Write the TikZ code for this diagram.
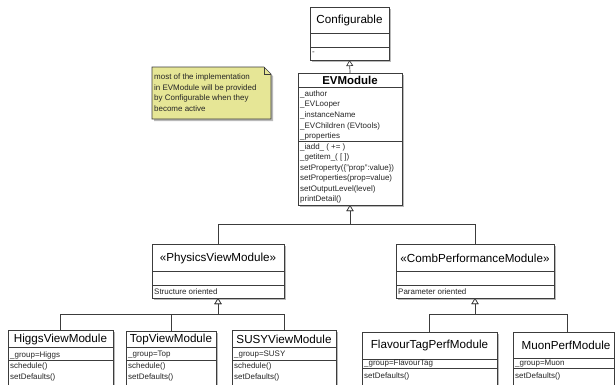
\documentclass[tikz,border=0pt]{standalone}
\usepackage{fontspec}
\setmainfont{Liberation Sans}
\usetikzlibrary{arrows.meta}
\definecolor{notefill}{RGB}{230,230,150}
\definecolor{lin}{RGB}{60,60,60}
\definecolor{shad}{RGB}{185,185,185}
\tikzset{
 cls/.style={draw=lin, line width=0.8bp, fill=white, inner sep=0pt, outer sep=0pt},
 shd/.style={fill=shad},
 divl/.style={draw=lin, line width=0.6bp},
 ttl/.style={font=\fontsize{11.7}{13}\selectfont, inner sep=0pt, text=black},
 ttlb/.style={font=\fontsize{11.5}{13}\selectfont\bfseries, inner sep=0pt, text=black},
 sm/.style={font=\fontsize{8}{9}\selectfont, inner sep=0pt, anchor=west, text=black!85},
 gen/.style={draw=lin, line width=0.7bp, -{Triangle[open, length=6bp, width=7bp, fill=white]}},
}
\newcommand{\cbox}[5]{%
 \fill[shd] (#2+2,#3+2) rectangle (#4+2,#5+2);
 \node[cls, anchor=north west, minimum width={(#4-#2)*1bp}, minimum height={(#5-#3)*1bp}] (#1) at (#2,#3) {};
}
\begin{document}
\begin{tikzpicture}[x=1bp,y=-1bp]
\useasboundingbox (0,0) rectangle (615,384);

% note
\fill[shd] (154,69) -- (266,69) -- (273,76) -- (273,121) -- (154,121) -- cycle;
\draw[lin, line width=0.6bp, fill=notefill] (152,67) -- (264,67) -- (271,74) -- (271,119) -- (152,119) -- cycle;
\draw[lin, line width=0.6bp] (264,67) -- (264,74) -- (271,74);
\node[sm] (n1) at (154,77) {most of the implementation};
\node[sm] (n2) at (154,88) {in EVModule will be provided};
\node[sm] (n3) at (154,98.5) {by Configurable when they};
\node[sm] (n4) at (154,109) {become active};

% Configurable
\cbox{conf}{310}{7}{389}{60}
\draw[divl] (310,33) -- (389,33);
\draw[divl] (310,47) -- (389,47);
\node[ttl] (conft) at (349.5,20) {Configurable};
\node[sm] (confa) at (312,53) {-};

% EVModule
\cbox{evm}{298}{73}{402}{205}
\draw[divl] (298,87) -- (402,87);
\draw[divl] (298,141) -- (402,141);
\node[ttlb] (evmt) at (350,80.5) {EVModule};
\node[sm] (e1) at (300,94) {\_author};
\node[sm] (e2) at (300,104.5) {\_EVLooper};
\node[sm] (e3) at (300,115.5) {\_instanceName};
\node[sm] (e4) at (300,126) {\_EVChildren (EVtools)};
\node[sm] (e5) at (300,136.5) {\_properties};
\node[sm] (e6) at (300,147) {\_iadd\_ ( += )};
\node[sm] (e7) at (300,157.5) {\_getitem\_( [ ])};
\node[sm] (e8) at (300,168) {setProperty(\{"prop":value\})};
\node[sm] (e9) at (300,178.5) {setProperties(prop=value)};
\node[sm] (e10) at (300,189) {setOutputLevel(level)};
\node[sm] (e11) at (300,199.5) {printDetail()};

% PhysicsViewModule
\cbox{phys}{152}{244}{284}{298}
\draw[divl] (152,271) -- (284,271);
\draw[divl] (152,285) -- (284,285);
\node[ttl] (physt) at (218,258) {«PhysicsViewModule»};
\node[sm] (physa) at (154,291.5) {Structure oriented};

% CombPerformanceModule
\cbox{comb}{396}{244}{554}{298}
\draw[divl] (396,271) -- (554,271);
\draw[divl] (396,285) -- (554,285);
\node[ttl] (combt) at (475,258) {«CombPerformanceModule»};
\node[sm] (comba) at (398,291.5) {Parameter oriented};

% Higgs
\cbox{higgs}{8}{330}{113}{386}
\draw[divl] (8,347) -- (113,347);
\draw[divl] (8,360) -- (113,360);
\node[ttl] (higgst) at (60.5,339) {HiggsViewModule};
\node[sm] (h1) at (10,355) {\_group=Higgs};
\node[sm] (h2) at (10,366.5) {schedule()};
\node[sm] (h3) at (10,377) {setDefaults()};

% Top
\cbox{top}{126}{331}{216}{386}
\draw[divl] (126,347) -- (216,347);
\draw[divl] (126,360) -- (216,360);
\node[ttl] (topt) at (171,339) {TopViewModule};
\node[sm] (t1) at (128,355) {\_group=Top};
\node[sm] (t2) at (128,366.5) {schedule()};
\node[sm] (t3) at (128,377) {setDefaults()};

% SUSY
\cbox{susy}{232}{330}{336}{386}
\draw[divl] (232,347) -- (336,347);
\draw[divl] (232,360) -- (336,360);
\node[ttl] (susyt) at (284,339) {SUSYViewModule};
\node[sm] (s1) at (234,355) {\_group=SUSY};
\node[sm] (s2) at (234,366.5) {schedule()};
\node[sm] (s3) at (234,377) {setDefaults()};

% FlavourTag
\cbox{flav}{362}{332}{497}{386}
\draw[divl] (362,359) -- (497,359);
\draw[divl] (362,368) -- (497,368);
\node[ttl] (flavt) at (429.5,345) {FlavourTagPerfModule};
\node[sm] (f1) at (364,363.5) {\_group=FlavourTag};
\node[sm] (f2) at (364,376) {setDefaults()};

% Muon
\cbox{muon}{513}{332}{614}{386}
\draw[divl] (513,358) -- (614,358);
\draw[divl] (513,368) -- (614,368);
\node[ttl] (muont) at (566,345) {MuonPerfModule};
\node[sm] (m1) at (515,363.5) {\_group=Muon};
\node[sm] (m2) at (515,376) {setDefaults()};

% generalizations
\coordinate (j1) at (350,224);
\coordinate (j2) at (218,314);
\coordinate (j3) at (475,314);
\coordinate (mtop) at (567,332);
\draw[gen] (evm.north) -- (conf.south);
\draw[gen] (phys.north) |- (j1) -- (evm.south);
\draw[gen] (comb.north) |- (j1) -- (evm.south);
\draw[gen] (higgs.north) |- (j2) -- (phys.south);
\draw[gen] (top.north) |- (j2) -- (phys.south);
\draw[gen] (susy.north) |- (j2) -- (phys.south);
\draw[gen] (flav.north) |- (j3) -- (comb.south);
\draw[gen] (mtop) |- (j3) -- (comb.south);
\end{tikzpicture}
\end{document}
